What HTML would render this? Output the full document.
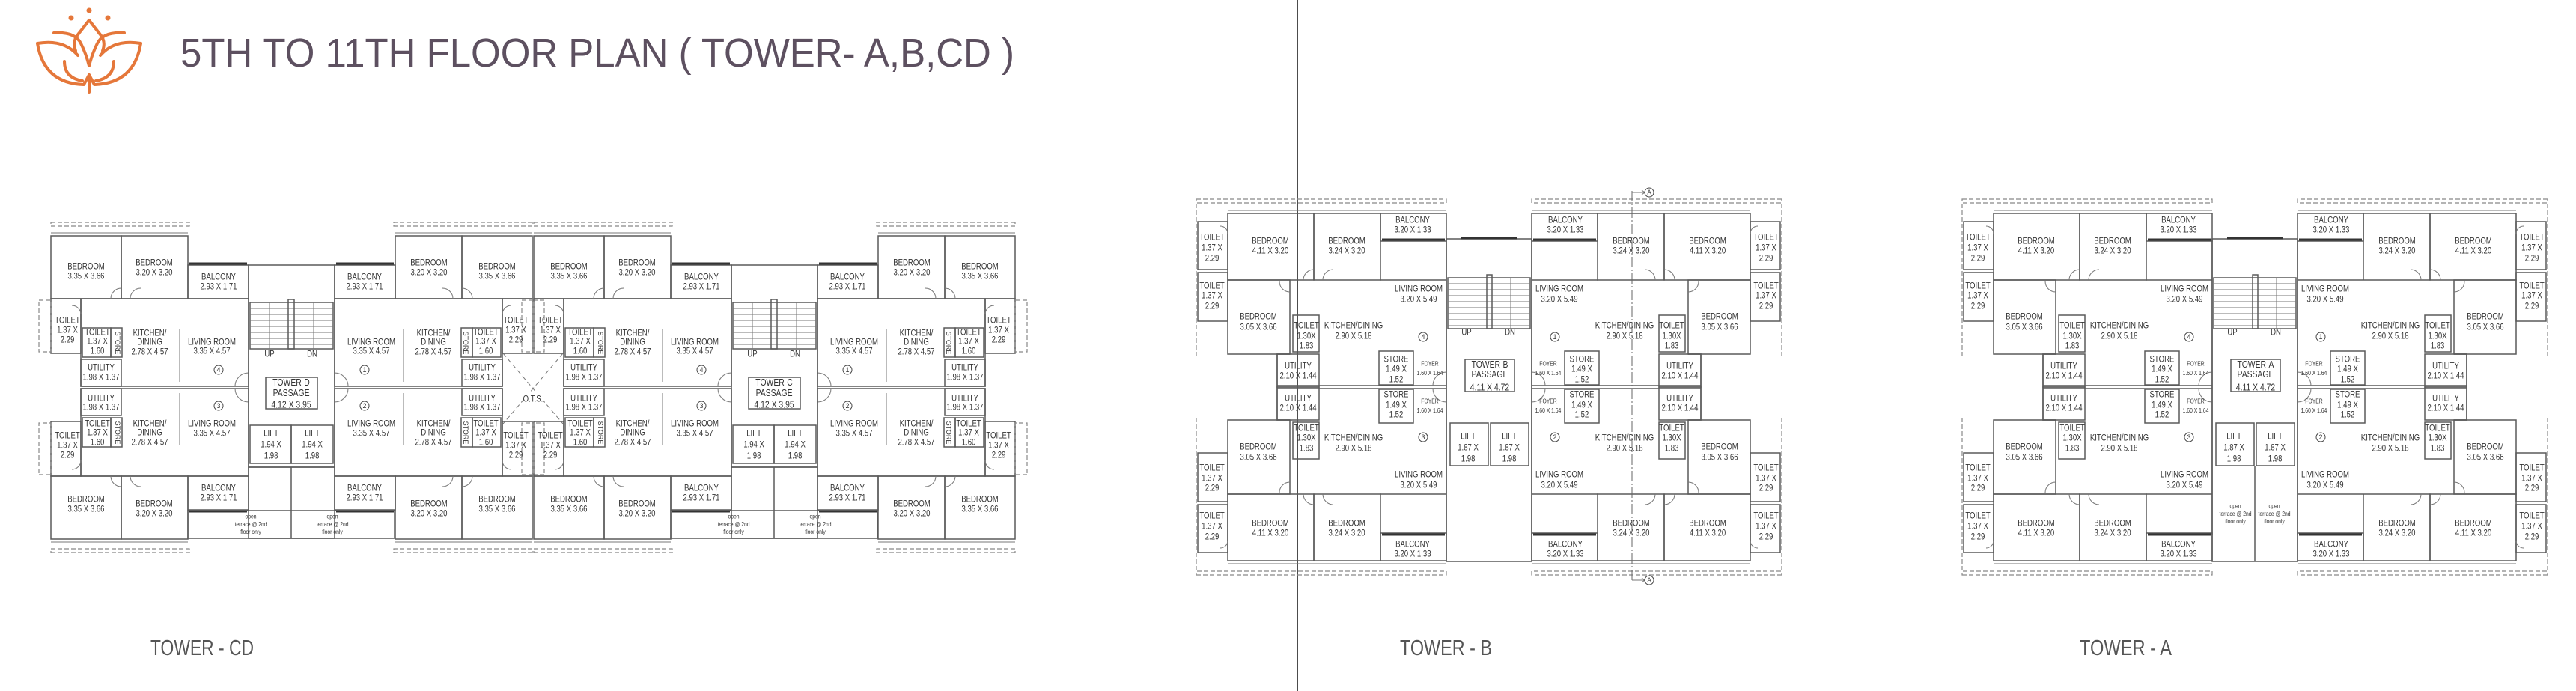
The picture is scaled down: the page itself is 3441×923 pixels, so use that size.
<!DOCTYPE html>
<html><head><meta charset="utf-8">
<style>
html,body{margin:0;padding:0;background:#fff;}
svg{display:block;}
.w{fill:none;stroke:#5a5a5a;stroke-width:1.5;}
.th{fill:none;stroke:#333;stroke-width:3;}
.d{fill:none;stroke:#888;stroke-width:1.2;stroke-dasharray:6 3;}
.dd{fill:none;stroke:#666;stroke-width:1;stroke-dasharray:14 3 2 3;}
.thin{fill:none;stroke:#777;stroke-width:1;}
.t{font-family:"Liberation Sans",sans-serif;font-size:12px;fill:#333;text-anchor:middle;dominant-baseline:central;transform-box:fill-box;transform-origin:center;transform:scaleX(.8);}
.s{font-family:"Liberation Sans",sans-serif;font-size:9px;fill:#333;text-anchor:middle;dominant-baseline:central;}
.sm{font-family:"Liberation Sans",sans-serif;font-size:8px;fill:#333;text-anchor:middle;dominant-baseline:central;transform-box:fill-box;transform-origin:center;transform:scaleX(.85);}
.c{fill:none;stroke:#444;stroke-width:1;}
</style></head><body>
<svg width="3441" height="923" viewBox="0 0 3441 923" xmlns="http://www.w3.org/2000/svg">
<defs>
 <!-- Tower D quadrant shapes -->
 <g id="dq">
  <rect class="d" x="68" y="297" width="185" height="5"/>
  <line class="thin" x1="68" y1="311" x2="251" y2="311"/>
  <rect class="w" x="68" y="315" width="94" height="84"/>
  <rect class="w" x="162" y="315" width="89" height="84"/>
  <rect class="w" x="251" y="354" width="81" height="45"/>
  <line class="th" x1="253" y1="352" x2="330" y2="352"/>
  <rect class="w" x="68" y="399" width="40" height="73"/>
  <rect class="d" x="52" y="401" width="16" height="69"/>
  <rect class="w" x="108" y="399" width="224" height="117"/>
  <rect class="w" x="110" y="438" width="38" height="39"/>
  <rect class="w" x="148" y="438" width="15" height="39"/>
  <rect class="w" x="108" y="480" width="54" height="36"/>
  <line class="thin" x1="240" y1="440" x2="240" y2="510"/>
  <path class="thin" d="M162 385 A14 14 0 0 0 148 399 M174 399 A14 14 0 0 1 188 385 M108 420 A12 12 0 0 0 96 408 M332 498 A18 18 0 0 0 314 516"/>
 </g>
 <g id="D">
  <use href="#dq"/>
  <use href="#dq" transform="translate(779,0) scale(-1,1)"/>
  <use href="#dq" transform="translate(0,1035) scale(1,-1)"/>
  <use href="#dq" transform="translate(779,1035) scale(-1,-1)"/>
  <rect class="w" x="332" y="354" width="115" height="270"/>
  <rect class="w" x="334" y="404" width="111" height="62"/>
  <path class="thin" d="M334 412H445M334 420H445M334 428H445M334 436H445M334 444H445M334 452H445M334 460H445M360 404V466M419 404V466"/>
  <rect class="w" x="385" y="400" width="8" height="66" fill="#fff"/>
  <rect class="w" x="355" y="504" width="69" height="42"/>
  <rect class="w" x="334" y="568" width="55" height="51"/>
  <rect class="w" x="389" y="568" width="56" height="51"/>
  <rect class="w" x="251" y="682" width="276" height="37"/>
  <rect class="w" x="332" y="624" width="115" height="95"/>
  <line class="w" x1="389" y1="624" x2="389" y2="719"/>
 </g>
 <g id="Dt">
  <text class="t" x="115" y="356">BEDROOM<tspan x="115" dy="13">3.35 X 3.66</tspan></text>
  <text class="t" x="664" y="356">BEDROOM<tspan x="664" dy="13">3.35 X 3.66</tspan></text>
  <text class="t" x="115" y="667">BEDROOM<tspan x="115" dy="13">3.35 X 3.66</tspan></text>
  <text class="t" x="664" y="667">BEDROOM<tspan x="664" dy="13">3.35 X 3.66</tspan></text>
  <text class="t" x="206" y="351">BEDROOM<tspan x="206" dy="13">3.20 X 3.20</tspan></text>
  <text class="t" x="573" y="351">BEDROOM<tspan x="573" dy="13">3.20 X 3.20</tspan></text>
  <text class="t" x="206" y="673">BEDROOM<tspan x="206" dy="13">3.20 X 3.20</tspan></text>
  <text class="t" x="573" y="673">BEDROOM<tspan x="573" dy="13">3.20 X 3.20</tspan></text>
  <text class="t" x="292" y="370">BALCONY<tspan x="292" dy="13">2.93 X 1.71</tspan></text>
  <text class="t" x="487" y="370">BALCONY<tspan x="487" dy="13">2.93 X 1.71</tspan></text>
  <text class="t" x="292" y="652">BALCONY<tspan x="292" dy="13">2.93 X 1.71</tspan></text>
  <text class="t" x="487" y="652">BALCONY<tspan x="487" dy="13">2.93 X 1.71</tspan></text>
  <text class="t" x="90" y="428">TOILET<tspan x="90" dy="13">1.37 X</tspan><tspan x="90" dy="13">2.29</tspan></text>
  <text class="t" x="689" y="428">TOILET<tspan x="689" dy="13">1.37 X</tspan><tspan x="689" dy="13">2.29</tspan></text>
  <text class="t" x="90" y="582">TOILET<tspan x="90" dy="13">1.37 X</tspan><tspan x="90" dy="13">2.29</tspan></text>
  <text class="t" x="689" y="582">TOILET<tspan x="689" dy="13">1.37 X</tspan><tspan x="689" dy="13">2.29</tspan></text>
  <text class="t" x="130" y="444">TOILET<tspan x="130" dy="12">1.37 X</tspan><tspan x="130" dy="13">1.60</tspan></text>
  <text class="t" x="649" y="444">TOILET<tspan x="649" dy="12">1.37 X</tspan><tspan x="649" dy="13">1.60</tspan></text>
  <text class="t" x="130" y="566">TOILET<tspan x="130" dy="12">1.37 X</tspan><tspan x="130" dy="13">1.60</tspan></text>
  <text class="t" x="649" y="566">TOILET<tspan x="649" dy="12">1.37 X</tspan><tspan x="649" dy="13">1.60</tspan></text>
  <text class="s" x="157" y="458" transform="rotate(90 157 458)">STORE</text>
  <text class="s" x="622" y="458" transform="rotate(90 622 458)">STORE</text>
  <text class="s" x="157" y="578" transform="rotate(90 157 578)">STORE</text>
  <text class="s" x="622" y="578" transform="rotate(90 622 578)">STORE</text>
  <text class="t" x="200" y="445">KITCHEN/<tspan x="200" dy="12">DINING</tspan><tspan x="200" dy="13">2.78 X 4.57</tspan></text>
  <text class="t" x="579" y="445">KITCHEN/<tspan x="579" dy="12">DINING</tspan><tspan x="579" dy="13">2.78 X 4.57</tspan></text>
  <text class="t" x="200" y="566">KITCHEN/<tspan x="200" dy="12">DINING</tspan><tspan x="200" dy="13">2.78 X 4.57</tspan></text>
  <text class="t" x="579" y="566">KITCHEN/<tspan x="579" dy="12">DINING</tspan><tspan x="579" dy="13">2.78 X 4.57</tspan></text>
  <text class="t" x="283" y="457">LIVING ROOM<tspan x="283" dy="12">3.35 X 4.57</tspan></text>
  <text class="t" x="496" y="457">LIVING ROOM<tspan x="496" dy="12">3.35 X 4.57</tspan></text>
  <text class="t" x="283" y="566">LIVING ROOM<tspan x="283" dy="13">3.35 X 4.57</tspan></text>
  <text class="t" x="496" y="566">LIVING ROOM<tspan x="496" dy="13">3.35 X 4.57</tspan></text>
  <text class="t" x="135" y="491">UTILITY<tspan x="135" dy="13">1.98 X 1.37</tspan></text>
  <text class="t" x="644" y="491">UTILITY<tspan x="644" dy="13">1.98 X 1.37</tspan></text>
  <text class="t" x="135" y="532">UTILITY<tspan x="135" dy="12">1.98 X 1.37</tspan></text>
  <text class="t" x="644" y="532">UTILITY<tspan x="644" dy="12">1.98 X 1.37</tspan></text>
  <circle class="c" cx="292" cy="494" r="6"/><text class="s" x="292" y="494">4</text>
  <circle class="c" cx="487" cy="494" r="6"/><text class="s" x="487" y="494">1</text>
  <circle class="c" cx="292" cy="542" r="6"/><text class="s" x="292" y="542">3</text>
  <circle class="c" cx="487" cy="542" r="6"/><text class="s" x="487" y="542">2</text>
  <text class="t" x="360" y="473">UP</text><text class="t" x="417" y="473">DN</text>
  <text class="t" x="389" y="525" style="font-size:13px">PASSAGE<tspan x="389" dy="15">4.12 X 3.95</tspan></text>
  <text class="t" x="362" y="579">LIFT<tspan x="362" dy="15">1.94 X</tspan><tspan x="362" dy="15">1.98</tspan></text>
  <text class="t" x="417" y="579">LIFT<tspan x="417" dy="15">1.94 X</tspan><tspan x="417" dy="15">1.98</tspan></text>
  <text class="sm" x="335" y="690">open<tspan x="335" dy="10">terrace @ 2nd</tspan><tspan x="335" dy="10">floor only</tspan></text>
  <text class="sm" x="444" y="690">open<tspan x="444" dy="10">terrace @ 2nd</tspan><tspan x="444" dy="10">floor only</tspan></text>
 </g>

 <!-- Tower B quadrant -->
 <g id="bq">
  <rect class="d" x="1598" y="266" width="334" height="5"/>
  <line class="d" x1="1598" y1="272" x2="1598" y2="475"/>
  <line class="thin" x1="1640" y1="281" x2="1932" y2="281"/>
  <rect class="w" x="1600" y="296" width="40" height="64"/>
  <rect class="w" x="1600" y="364" width="40" height="65"/>
  <rect class="w" x="1640" y="285" width="115" height="89"/>
  <rect class="w" x="1755" y="285" width="89" height="89"/>
  <rect class="w" x="1844" y="285" width="88" height="37"/>
  <line class="th" x1="1846" y1="320" x2="1930" y2="320"/>
  <rect class="w" x="1640" y="374" width="83" height="99"/>
  <path class="w" d="M1723 473 H1706 V517 M1844 374 H1932"/>
  <rect class="w" x="1727" y="421" width="35" height="49"/>
  <rect class="w" x="1706" y="473" width="56" height="44"/>
  <rect class="w" x="1842" y="469" width="46" height="45"/>
  <line class="w" x1="1706" y1="515" x2="1932" y2="515"/>
  <line class="w" x1="1932" y1="319" x2="1932" y2="517"/>
  <path class="thin" d="M1755 360 A14 14 0 0 0 1741 374 M1767 374 A14 14 0 0 1 1781 360 M1723 390 A14 14 0 0 1 1709 376 M1932 497 A18 18 0 0 0 1914 515 M1640 312 A10 10 0 0 0 1630 302"/>
 </g>
 <g id="B">
  <use href="#bq"/>
  <use href="#bq" transform="translate(3978,0) scale(-1,1)"/>
  <use href="#bq" transform="translate(0,1034) scale(1,-1)"/>
  <use href="#bq" transform="translate(3978,1034) scale(-1,-1)"/>
  <rect class="w" x="1932" y="319" width="114" height="431"/>
  <line class="th" x1="1952" y1="318" x2="2026" y2="318"/>
  <rect class="w" x="1934" y="371" width="110" height="68"/>
  <path class="thin" d="M1934 379H2044M1934 387H2044M1934 395H2044M1934 403H2044M1934 411H2044M1934 419H2044M1934 427H2044M1934 435H2044M2018 371V439"/>
  <rect class="w" x="1986" y="367" width="7" height="72" fill="#fff"/>
  <rect class="w" x="1957" y="480" width="66" height="43"/>
  <rect class="w" x="1937" y="565" width="51" height="57"/>
  <rect class="w" x="1991" y="565" width="51" height="57"/>
 </g>
 <g id="Bt">
  <text class="t" x="1619" y="317">TOILET<tspan x="1619" dy="14">1.37 X</tspan><tspan x="1619" dy="14">2.29</tspan></text>
  <text class="t" x="2359" y="317">TOILET<tspan x="2359" dy="14">1.37 X</tspan><tspan x="2359" dy="14">2.29</tspan></text>
  <text class="t" x="1619" y="382">TOILET<tspan x="1619" dy="13">1.37 X</tspan><tspan x="1619" dy="14">2.29</tspan></text>
  <text class="t" x="2359" y="382">TOILET<tspan x="2359" dy="13">1.37 X</tspan><tspan x="2359" dy="14">2.29</tspan></text>
  <text class="t" x="1619" y="625">TOILET<tspan x="1619" dy="14">1.37 X</tspan><tspan x="1619" dy="13">2.29</tspan></text>
  <text class="t" x="2359" y="625">TOILET<tspan x="2359" dy="14">1.37 X</tspan><tspan x="2359" dy="13">2.29</tspan></text>
  <text class="t" x="1619" y="689">TOILET<tspan x="1619" dy="14">1.37 X</tspan><tspan x="1619" dy="14">2.29</tspan></text>
  <text class="t" x="2359" y="689">TOILET<tspan x="2359" dy="14">1.37 X</tspan><tspan x="2359" dy="14">2.29</tspan></text>
  <text class="t" x="1697" y="322">BEDROOM<tspan x="1697" dy="13">4.11 X 3.20</tspan></text>
  <text class="t" x="2281" y="322">BEDROOM<tspan x="2281" dy="13">4.11 X 3.20</tspan></text>
  <text class="t" x="1697" y="699">BEDROOM<tspan x="1697" dy="13">4.11 X 3.20</tspan></text>
  <text class="t" x="2281" y="699">BEDROOM<tspan x="2281" dy="13">4.11 X 3.20</tspan></text>
  <text class="t" x="1799" y="322">BEDROOM<tspan x="1799" dy="13">3.24 X 3.20</tspan></text>
  <text class="t" x="2179" y="322">BEDROOM<tspan x="2179" dy="13">3.24 X 3.20</tspan></text>
  <text class="t" x="1799" y="699">BEDROOM<tspan x="1799" dy="13">3.24 X 3.20</tspan></text>
  <text class="t" x="2179" y="699">BEDROOM<tspan x="2179" dy="13">3.24 X 3.20</tspan></text>
  <text class="t" x="1887" y="294">BALCONY<tspan x="1887" dy="13">3.20 X 1.33</tspan></text>
  <text class="t" x="2091" y="294">BALCONY<tspan x="2091" dy="13">3.20 X 1.33</tspan></text>
  <text class="t" x="1887" y="727">BALCONY<tspan x="1887" dy="13">3.20 X 1.33</tspan></text>
  <text class="t" x="2091" y="727">BALCONY<tspan x="2091" dy="13">3.20 X 1.33</tspan></text>
  <text class="t" x="1895" y="386">LIVING ROOM<tspan x="1895" dy="14">3.20 X 5.49</tspan></text>
  <text class="t" x="2083" y="386">LIVING ROOM<tspan x="2083" dy="14">3.20 X 5.49</tspan></text>
  <text class="t" x="1895" y="634">LIVING ROOM<tspan x="1895" dy="14">3.20 X 5.49</tspan></text>
  <text class="t" x="2083" y="634">LIVING ROOM<tspan x="2083" dy="14">3.20 X 5.49</tspan></text>
  <text class="t" x="1681" y="423">BEDROOM<tspan x="1681" dy="14">3.05 X 3.66</tspan></text>
  <text class="t" x="2297" y="423">BEDROOM<tspan x="2297" dy="14">3.05 X 3.66</tspan></text>
  <text class="t" x="1681" y="597">BEDROOM<tspan x="1681" dy="14">3.05 X 3.66</tspan></text>
  <text class="t" x="2297" y="597">BEDROOM<tspan x="2297" dy="14">3.05 X 3.66</tspan></text>
  <text class="t" x="1745" y="435">TOILET<tspan x="1745" dy="14">1.30X</tspan><tspan x="1745" dy="13">1.83</tspan></text>
  <text class="t" x="2233" y="435">TOILET<tspan x="2233" dy="14">1.30X</tspan><tspan x="2233" dy="13">1.83</tspan></text>
  <text class="t" x="1745" y="572">TOILET<tspan x="1745" dy="13">1.30X</tspan><tspan x="1745" dy="14">1.83</tspan></text>
  <text class="t" x="2233" y="572">TOILET<tspan x="2233" dy="13">1.30X</tspan><tspan x="2233" dy="14">1.83</tspan></text>
  <text class="t" x="1808" y="435">KITCHEN/DINING<tspan x="1808" dy="14">2.90 X 5.18</tspan></text>
  <text class="t" x="2170" y="435">KITCHEN/DINING<tspan x="2170" dy="14">2.90 X 5.18</tspan></text>
  <text class="t" x="1808" y="585">KITCHEN/DINING<tspan x="1808" dy="14">2.90 X 5.18</tspan></text>
  <text class="t" x="2170" y="585">KITCHEN/DINING<tspan x="2170" dy="14">2.90 X 5.18</tspan></text>
  <circle class="c" cx="1901" cy="450" r="6"/><text class="s" x="1901" y="450">4</text>
  <circle class="c" cx="2077" cy="450" r="6"/><text class="s" x="2077" y="450">1</text>
  <circle class="c" cx="1901" cy="584" r="6"/><text class="s" x="1901" y="584">3</text>
  <circle class="c" cx="2077" cy="584" r="6"/><text class="s" x="2077" y="584">2</text>
  <text class="t" x="1865" y="480">STORE<tspan x="1865" dy="13">1.49 X</tspan><tspan x="1865" dy="14">1.52</tspan></text>
  <text class="t" x="2113" y="480">STORE<tspan x="2113" dy="13">1.49 X</tspan><tspan x="2113" dy="14">1.52</tspan></text>
  <text class="t" x="1865" y="527">STORE<tspan x="1865" dy="14">1.49 X</tspan><tspan x="1865" dy="13">1.52</tspan></text>
  <text class="t" x="2113" y="527">STORE<tspan x="2113" dy="14">1.49 X</tspan><tspan x="2113" dy="13">1.52</tspan></text>
  <text class="sm" x="1910" y="486">FOYER<tspan x="1910" dy="12">1.60 X 1.64</tspan></text>
  <text class="sm" x="2068" y="486">FOYER<tspan x="2068" dy="12">1.60 X 1.64</tspan></text>
  <text class="sm" x="1910" y="536">FOYER<tspan x="1910" dy="12">1.60 X 1.64</tspan></text>
  <text class="sm" x="2068" y="536">FOYER<tspan x="2068" dy="12">1.60 X 1.64</tspan></text>
  <text class="t" x="1734" y="489">UTILITY<tspan x="1734" dy="13">2.10 X 1.44</tspan></text>
  <text class="t" x="2244" y="489">UTILITY<tspan x="2244" dy="13">2.10 X 1.44</tspan></text>
  <text class="t" x="1734" y="532">UTILITY<tspan x="1734" dy="13">2.10 X 1.44</tspan></text>
  <text class="t" x="2244" y="532">UTILITY<tspan x="2244" dy="13">2.10 X 1.44</tspan></text>
  <text class="t" x="1959" y="444">UP</text><text class="t" x="2017" y="444">DN</text>
  <text class="t" x="1990" y="500" style="font-size:13px">PASSAGE<tspan x="1990" dy="17">4.11 X 4.72</tspan></text>
  <text class="t" x="1961" y="583">LIFT<tspan x="1961" dy="15">1.87 X</tspan><tspan x="1961" dy="15">1.98</tspan></text>
  <text class="t" x="2016" y="583">LIFT<tspan x="2016" dy="15">1.87 X</tspan><tspan x="2016" dy="15">1.98</tspan></text>
 </g>
</defs>

<!-- Logo -->
<g fill="none" stroke="#e5773a" stroke-width="4" stroke-linejoin="round" stroke-linecap="round">
 <path d="M105 45 L119 27 L133 45"/>
 <path d="M72 44 Q100 42 108 58 Q115 72 119 88 Q123 72 130 58 Q138 42 166 44"/>
 <path d="M105 45 Q96 55 101 68 M133 45 Q142 55 137 68"/>
 <path d="M50 58 Q85 52 104 74 M188 58 Q153 52 134 74"/>
 <path d="M50 58 C56 95 78 112 112 113 L119 100 L126 113 C160 112 182 95 188 58"/>
 <path d="M86 82 Q86 104 110 108 M152 82 Q152 104 128 108"/>
 <path d="M119 100 L119 123"/>
</g>
<g fill="#e5773a"><circle cx="119" cy="14" r="3.5"/><circle cx="95" cy="24" r="3.5"/><circle cx="144" cy="24" r="3.5"/></g>

<text x="241" y="89" font-family="Liberation Sans, sans-serif" font-size="54" fill="#5d5060" textLength="1114" lengthAdjust="spacingAndGlyphs">5TH TO 11TH FLOOR PLAN ( TOWER- A,B,CD )</text>

<!-- vertical divider -->
<line x1="1733" y1="0" x2="1733" y2="923" stroke="#111" stroke-width="1.5"/>

<!-- Tower CD -->
<use href="#D"/>
<use href="#D" transform="translate(645,0)"/>
<use href="#Dt"/>
<use href="#Dt" transform="translate(645,0)"/>
<text class="t" x="389" y="511" style="font-size:13px">TOWER-D</text>
<text class="t" x="1034" y="511" style="font-size:13px">TOWER-C</text>
<path class="thin" stroke-dasharray="6 4" d="M672 472 L752 566 M752 472 L672 566"/>
<rect x="700" y="524" width="26" height="18" fill="#fff"/>
<text class="t" x="712" y="533">O.T.S.</text>

<!-- Tower B -->
<use href="#B"/>
<use href="#Bt"/>
<text class="t" x="1990" y="487" style="font-size:13px">TOWER-B</text>
<line class="dd" x1="2180" y1="255" x2="2180" y2="776"/>
<path class="thin" d="M2180 257 H2197 M2193 254 L2197 257 L2193 260 M2180 775 H2197 M2193 772 L2197 775 L2193 778"/>
<circle class="c" cx="2203" cy="257" r="6"/><text class="s" x="2203" y="257" style="font-size:8px">A</text>
<circle class="c" cx="2203" cy="775" r="6"/><text class="s" x="2203" y="775" style="font-size:8px">A</text>

<!-- Tower A -->
<use href="#B" transform="translate(1023,0)"/>
<use href="#Bt" transform="translate(1023,0)"/>
<text class="t" x="3013" y="487" style="font-size:13px">TOWER-A</text>
<line class="w" x1="3012" y1="622" x2="3012" y2="750"/>
<text class="sm" x="2986" y="676">open<tspan x="2986" dy="10">terrace @ 2nd</tspan><tspan x="2986" dy="10">floor only</tspan></text>
<text class="sm" x="3038" y="676">open<tspan x="3038" dy="10">terrace @ 2nd</tspan><tspan x="3038" dy="10">floor only</tspan></text>

<!-- Labels -->
<text x="201" y="875" font-family="Liberation Sans, sans-serif" font-size="29" fill="#555" textLength="138" lengthAdjust="spacingAndGlyphs">TOWER - CD</text>
<text x="1870" y="875" font-family="Liberation Sans, sans-serif" font-size="29" fill="#555" textLength="123" lengthAdjust="spacingAndGlyphs">TOWER - B</text>
<text x="2778" y="875" font-family="Liberation Sans, sans-serif" font-size="29" fill="#555" textLength="123" lengthAdjust="spacingAndGlyphs">TOWER - A</text>
</svg>
</body></html>
